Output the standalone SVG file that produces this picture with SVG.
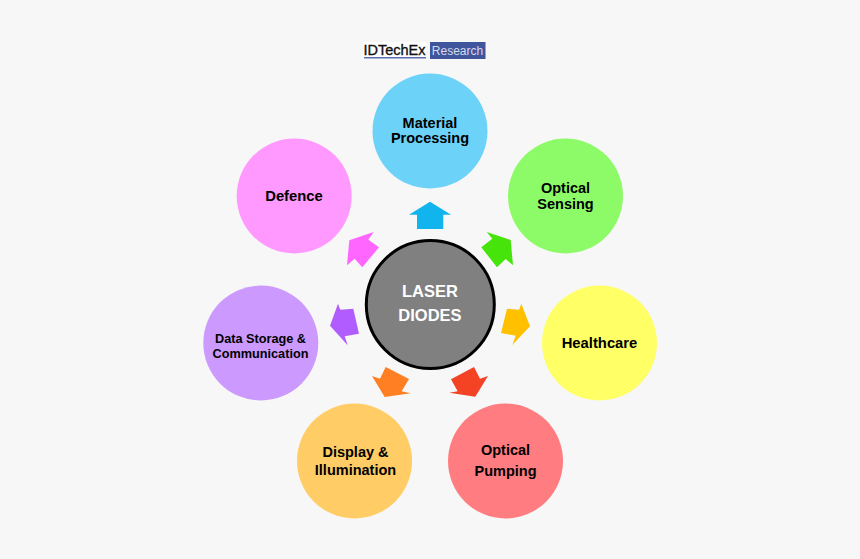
<svg xmlns="http://www.w3.org/2000/svg" width="860" height="559" viewBox="0 0 860 559">
<style>
.lbl{font-family:"Liberation Sans",Arial,sans-serif;font-weight:700;font-size:14.5px;fill:#000;text-anchor:middle}
.lbl2{font-size:14.800px}
.lbl3{font-size:12.700px}
.ctr{font-family:"Liberation Sans",Arial,sans-serif;font-weight:700;font-size:16.500px;fill:#fff;text-anchor:middle}
</style>
<rect width="860" height="559" fill="#f7f7f7"/>
<g id="logo">
<rect x="363" y="42" width="63" height="17" fill="#fff"/>
<text x="394.500" y="55" font-family="'Liberation Sans',Arial,sans-serif" font-size="14.500" fill="#111" stroke="#111" stroke-width="0.350" text-anchor="middle">IDTechEx</text>
<rect x="364" y="57" width="62" height="1.500" fill="#5a6cb0"/>
<rect x="430" y="42" width="55.500" height="17" fill="#3f559c"/>
<text x="457.500" y="55" font-family="'Liberation Sans',Arial,sans-serif" font-size="12" fill="#d5dbec" text-anchor="middle">Research</text>
</g>
<g id="connectors">
<polygon fill="#12b4ee" points="430,201.700 451,214.700 443.300,214.700 443.300,229 417,229 417,214.700 409,214.700"/>
<polygon fill="#46e40a" points="510.700,240 486.700,232 492.300,238.700 481.300,247.300 497,267.300 505.700,259 513,265.300"/>
<polygon fill="#ffc000" points="530,326.300 521.300,303.700 519,309.700 507,308.700 501,333 515.700,335.700 512.300,345"/>
<polygon fill="#f34224" points="475.300,396.700 488,376 480,378.700 474,367 451,379.300 457.700,391.300 449.300,392.700"/>
<polygon fill="#ff7f22" points="384.700,397 372,376 380,378.700 385.700,367 409,379 401.700,391.300 410.700,393.300"/>
<polygon fill="#b15cff" points="330,325.700 338,303.700 340.300,309.700 353.300,308.700 359,333.700 344.700,336.300 347.700,345.300"/>
<polygon fill="#ff66ff" points="349.300,240.300 373.700,232 368.300,239.700 379,247.300 362.300,267.300 354.700,258.700 347,265.300"/>
</g>
<g id="node-material"><circle cx="430" cy="131" r="57.500" fill="#6dd2f8"/><text class="lbl" x="430" y="128">Material</text><text class="lbl" x="430" y="143">Processing</text></g>
<g id="node-optical-sensing"><circle cx="565.500" cy="196" r="57.500" fill="#8dfb68"/><text class="lbl" x="565.500" y="193">Optical</text><text class="lbl" x="565.500" y="208.500">Sensing</text></g>
<g id="node-healthcare"><circle cx="599.500" cy="343" r="57.500" fill="#ffff66"/><text class="lbl lbl2" x="599.500" y="347.500">Healthcare</text></g>
<g id="node-optical-pumping"><circle cx="505.500" cy="461" r="57.500" fill="#ff7c80"/><text class="lbl" x="505.500" y="455">Optical</text><text class="lbl" x="505.500" y="476">Pumping</text></g>
<g id="node-display"><circle cx="354.500" cy="461" r="57.500" fill="#ffcc66"/><text class="lbl" x="355.500" y="457">Display &amp;</text><text class="lbl" x="355.500" y="474.500">Illumination</text></g>
<g id="node-data"><circle cx="260.800" cy="343" r="57.500" fill="#cc99ff"/><text class="lbl lbl3" x="260.500" y="343">Data Storage &amp;</text><text class="lbl lbl3" x="260.500" y="358">Communication</text></g>
<g id="node-defence"><circle cx="294.200" cy="196" r="57.500" fill="#ff99ff"/><text class="lbl lbl2" x="294" y="200.500">Defence</text></g>
<g id="node-center"><circle cx="430.300" cy="304.500" r="64" fill="#808080" stroke="#000" stroke-width="3"/><text class="ctr" x="430" y="297">LASER</text><text class="ctr" x="430" y="321">DIODES</text></g>
</svg>
